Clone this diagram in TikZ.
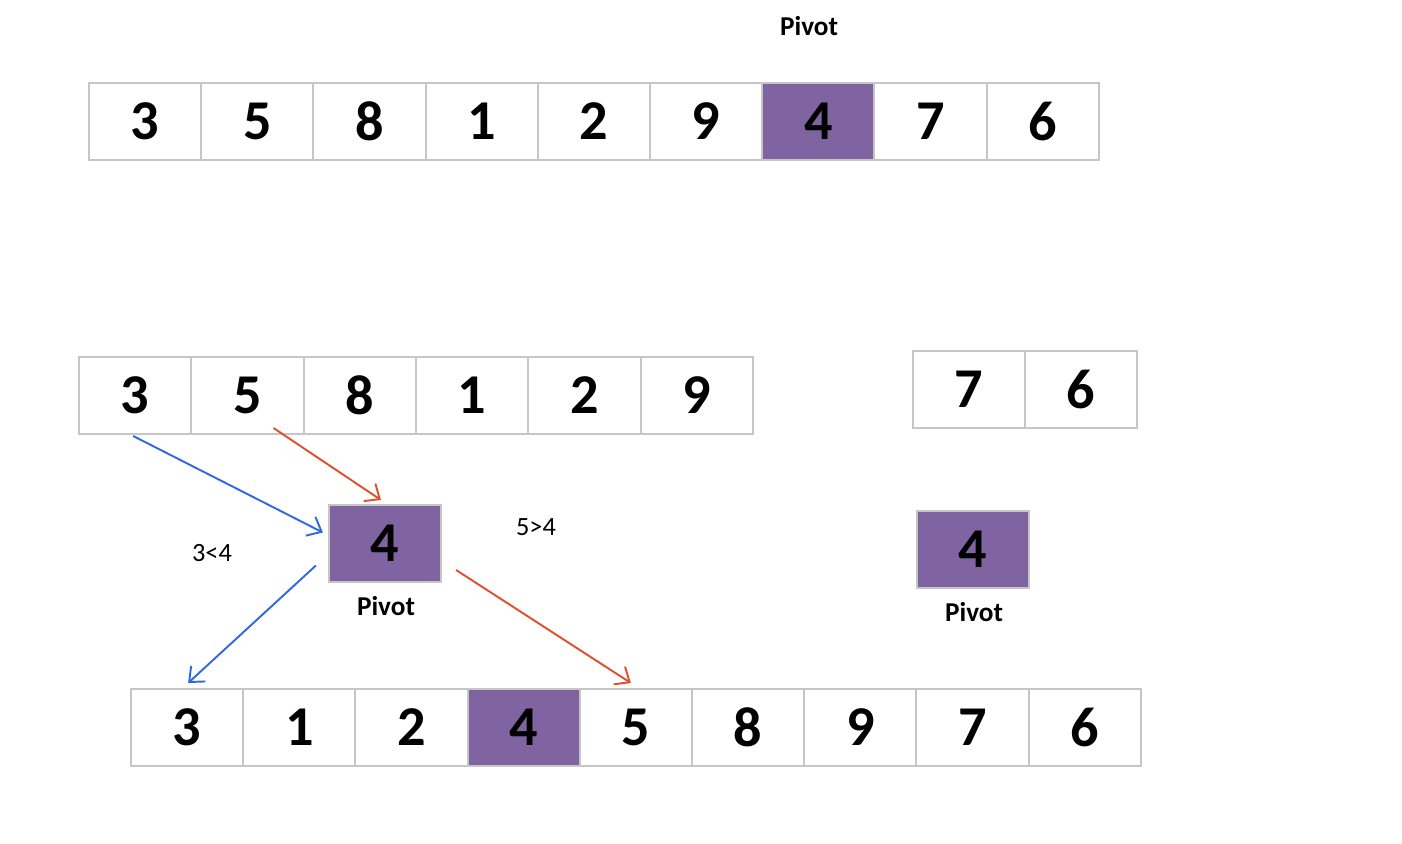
\documentclass[tikz,border=0pt]{standalone}
\usepackage{fontspec}
\setmainfont{Carlito}
\usetikzlibrary{arrows.meta,calc}
\definecolor{pivotlila}{HTML}{8064A2}
\definecolor{rahmengrau}{HTML}{C6C6C6}
\definecolor{pfeilblau}{HTML}{3068E4}
\definecolor{pfeilrot}{HTML}{E0502C}
\tikzset{
	zelle/.style={draw=rahmengrau, line width=1.1pt, fill=white, inner sep=0pt,
	outer sep=0pt, minimum width=2.244cm, minimum height=1.54cm,
	font=\fontsize{32}{36}\selectfont\bfseries},
	pivotzelle/.style={zelle, fill=pivotlila},
	pivottext/.style={font=\fontsize{15.5}{18}\selectfont\bfseries},
	vergleich/.style={font=\fontsize{15}{18}\selectfont},
	pfeil/.style={line width=1.1pt, -{Straight Barb[length=7pt,width=12pt]}}
}
\begin{document}
\begin{tikzpicture}[x=0.02cm, y=-0.02cm]
	\useasboundingbox (0,0) rectangle (1402,844);
	% Ausgangsfolge oben
	\node[pivottext] (ptop) at (809,26) {Pivot};
	\foreach \v/\s [count=\i] in {3/zelle,5/zelle,8/zelle,1/zelle,2/zelle,
		9/zelle,4/pivotzelle,7/zelle,6/zelle}
		\node[\s] (t\i) at ({89+112.2*(\i-0.5)}, 121.5) {\v};

	% Teilfolgen links und rechts
	\foreach \v [count=\i] in {3,5,8,1,2,9}
		\node[zelle] (l\i) at ({79+112.33*(\i-0.5)}, 395.5) {\v};
	\foreach \v [count=\i] in {7,6}
		\node[zelle] (r\i) at ({913+112*(\i-0.5)}, 389.5) {\v};

	% Pivot-Elemente
	\node[pivotzelle] (pv) at (385,543.5) {4};
	\node[pivottext] (pvtext) at (386,606) {Pivot};
	\node[pivotzelle] (pvr) at (973,549.5) {4};
	\node[pivottext] (pvrtext) at (974,612) {Pivot};

	% Vergleiche
	\node[vergleich] (kleiner) at (212,553) {3<4};
	\node[vergleich] (groesser) at (536,527) {5>4};
	\draw[pfeil, pfeilblau] ($(l1.south)+(-2,2)$) -- ($(pv.west)+(-6,-11)$);
	\draw[pfeil, pfeilrot] ($(l2.south)+(26,-6)$) -- ($(pv.north)+(-4,-5)$);

	% Ergebnis unten
	\foreach \v/\s [count=\i] in {3/zelle,1/zelle,2/zelle,4/pivotzelle,5/zelle,
		8/zelle,9/zelle,7/zelle,6/zelle}
		\node[\s] (b\i) at ({131+112.2*(\i-0.5)}, 727.5) {\v};
	\draw[pfeil, pfeilblau] ($(pv.west)+(-13,22)$) -- ($(b1.north)+(1,-6)$);
	\draw[pfeil, pfeilrot] ($(pv.east)+(15,26.5)$) -- ($(b5.north)+(-5,-6)$);
\end{tikzpicture}
\end{document}
